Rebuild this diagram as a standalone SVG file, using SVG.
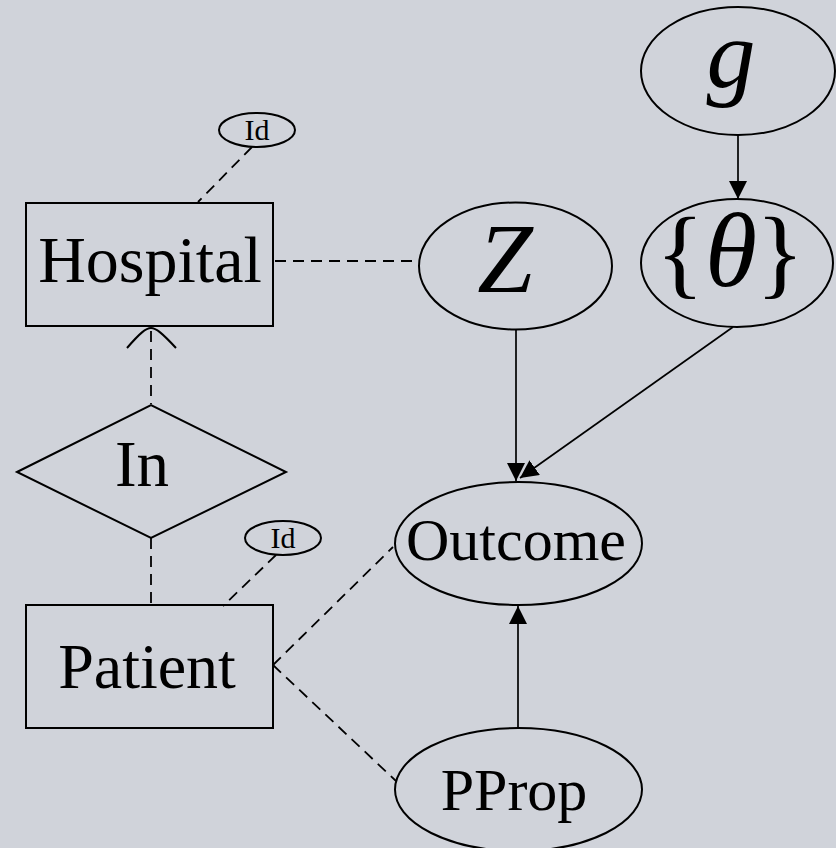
<svg xmlns="http://www.w3.org/2000/svg" width="836" height="848" viewBox="0 0 836 848">
  <style>
    .shape { fill: none; stroke: #000; stroke-width: 2; }
    .dash { fill: none; stroke: #000; stroke-width: 1.8; stroke-dasharray: 11 7; }
    .arrow { fill: none; stroke: #000; stroke-width: 1.7; }
    .lbl { font-family: "Liberation Serif", "Times New Roman", serif; fill: #000; text-anchor: middle; }
    .it { font-style: italic; }
  </style>
  <defs>
    <marker id="head" markerUnits="userSpaceOnUse" markerWidth="18" markerHeight="18" viewBox="0 0 16 16" refX="16" refY="8" orient="auto">
      <path d="M0,0 L16,8 L0,16 Z" fill="#000"/>
    </marker>
  </defs>
  <rect width="836" height="848" fill="#d0d3da"/>

  <g id="connectors">
    <line class="dash" x1="252" y1="147" x2="198" y2="202"/>
    <line class="dash" x1="275" y1="261" x2="420" y2="261"/>
    <path class="shape" stroke-width="1.7" d="M127,348 C140,333 146,328 151,328 C156,328 162,333 176,348"/>
    <line class="dash" x1="151" y1="331" x2="151" y2="404"/>
    <line class="dash" x1="151" y1="538" x2="151" y2="605"/>
    <line class="dash" x1="276" y1="555" x2="223" y2="606"/>
    <line class="dash" x1="273" y1="665" x2="393" y2="547"/>
    <line class="dash" x1="273" y1="665" x2="396" y2="781"/>
    <line class="arrow" x1="738" y1="135" x2="738" y2="199" marker-end="url(#head)"/>
    <line class="arrow" x1="516" y1="330" x2="516" y2="481" marker-end="url(#head)"/>
    <line class="arrow" x1="733" y1="327" x2="520" y2="478" marker-end="url(#head)"/>
    <line class="arrow" x1="518" y1="728" x2="518" y2="606" marker-end="url(#head)"/>
  </g>

  <g id="hospital">
    <rect class="shape" x="26" y="203" width="247" height="123"/>
    <text class="lbl" x="150" y="282" font-size="66">Hospital</text>
  </g>

  <g id="hospital-id">
    <ellipse class="shape" stroke-width="1.7" cx="257" cy="130" rx="38" ry="17"/>
    <text class="lbl" x="257" y="140" font-size="30">Id</text>
  </g>

  <g id="in">
    <polygon class="shape" points="17,472 151,405 286,472 151,538"/>
    <text class="lbl" x="142" y="486" font-size="65">In</text>
  </g>

  <g id="patient">
    <rect class="shape" x="26" y="605" width="247" height="123"/>
    <text class="lbl" x="147" y="688" font-size="64">Patient</text>
  </g>

  <g id="patient-id">
    <ellipse class="shape" stroke-width="1.7" cx="283" cy="538" rx="38" ry="17"/>
    <text class="lbl" x="283" y="548" font-size="30">Id</text>
  </g>

  <g id="z">
    <ellipse class="shape" cx="515.5" cy="266" rx="96.5" ry="63.5"/>
    <text class="lbl it" x="505" y="292" font-size="100">Z</text>
  </g>

  <g id="g">
    <ellipse class="shape" cx="738" cy="71" rx="97" ry="64"/>
    <text class="lbl it" x="731" y="87" font-size="98">g</text>
  </g>

  <g id="theta">
    <ellipse class="shape" cx="737" cy="263" rx="96" ry="64"/>
    <text class="lbl" y="286" font-size="100"><tspan x="680">{</tspan><tspan class="it" x="731" font-size="106">θ</tspan><tspan x="780">}</tspan></text>
  </g>

  <g id="outcome">
    <ellipse class="shape" cx="518.5" cy="543.5" rx="123.5" ry="61.5"/>
    <text class="lbl" x="516" y="560" font-size="60">Outcome</text>
  </g>

  <g id="pprop">
    <ellipse class="shape" cx="518.5" cy="789.5" rx="123.5" ry="61.5"/>
    <text class="lbl" x="514" y="810" font-size="60">PProp</text>
  </g>
</svg>
